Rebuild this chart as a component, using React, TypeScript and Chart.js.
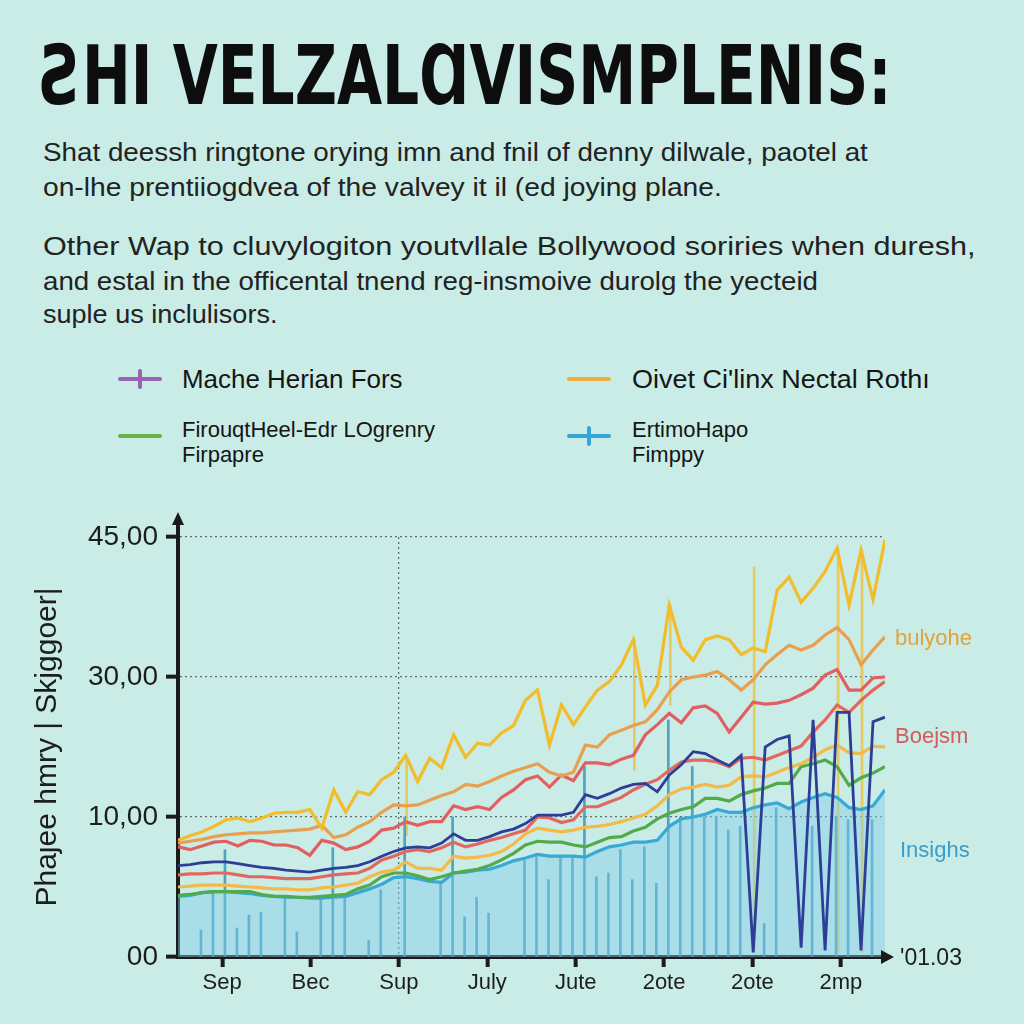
import React, { useEffect, useLayoutEffect, useRef } from "react";
import { Chart, registerables } from "chart.js";

Chart.register(...registerables);

const xTickLabels = ["Sep", "Bec", "Sup", "July", "Jute", "2ote", "2ote", "2mp"];
const yTickValues = [0, 15, 30, 45];
const yTickLabels = ["00", "10,00", "30,00", "45,00"];
const yAxisTitle = "Phaȷee hmry | Skjggoer|";

const yellowTop = [12.5, 13.0, 13.4, 14.0, 14.7, 14.9, 14.5, 14.9, 15.4, 15.5, 15.5, 15.8, 13.8, 17.9, 15.5, 17.7, 17.4, 19.0, 19.8, 21.6, 18.8, 21.3, 20.3, 23.8, 21.4, 22.9, 22.7, 24.0, 24.8, 27.5, 28.6, 22.7, 27.0, 24.9, 26.8, 28.6, 29.5, 31.3, 34.0, 27.0, 29.1, 37.7, 33.2, 31.8, 34.0, 34.4, 34.0, 32.4, 33.1, 32.7, 39.3, 40.7, 38.0, 39.5, 41.3, 43.8, 37.7, 43.6, 38.3, 44.7];
const orangeLine = [12.2, 12.4, 12.6, 12.9, 13.1, 13.2, 13.3, 13.3, 13.4, 13.5, 13.6, 13.7, 14.1, 12.8, 13.1, 13.9, 14.5, 15.5, 16.3, 16.2, 16.3, 16.8, 17.3, 17.7, 18.5, 18.3, 18.8, 19.4, 19.9, 20.3, 20.7, 19.8, 19.4, 19.8, 22.7, 22.5, 23.8, 24.3, 24.8, 25.2, 26.5, 28.4, 29.7, 30.0, 30.2, 30.6, 29.7, 28.6, 29.7, 31.3, 32.4, 33.4, 32.9, 33.4, 34.5, 35.3, 34.0, 31.3, 32.9, 34.3];
const redUpper = [11.8, 11.5, 11.9, 12.3, 12.4, 11.9, 12.5, 12.4, 12.0, 12.0, 11.7, 10.9, 12.5, 12.2, 11.5, 11.8, 12.4, 13.6, 13.8, 14.5, 14.1, 14.5, 14.5, 16.2, 15.8, 16.1, 15.8, 17.1, 17.9, 19.0, 19.4, 18.2, 19.5, 18.9, 20.8, 20.8, 20.6, 21.2, 21.6, 23.8, 24.9, 26.1, 25.1, 26.7, 26.9, 26.1, 24.1, 25.7, 27.3, 27.1, 27.2, 27.5, 28.1, 28.8, 30.2, 30.8, 28.6, 28.6, 29.9, 30.0];
const darkBlue = [9.8, 9.9, 10.1, 10.2, 10.2, 10.0, 9.8, 9.6, 9.5, 9.3, 9.2, 9.1, 9.3, 9.5, 9.6, 9.8, 10.2, 10.8, 11.3, 11.7, 11.8, 11.7, 12.2, 13.2, 12.5, 12.5, 12.9, 13.4, 13.7, 14.3, 15.2, 15.2, 15.2, 15.5, 17.4, 17.0, 17.5, 18.1, 18.5, 18.6, 17.7, 19.5, 20.6, 22.0, 21.8, 21.1, 20.5, 21.6, 0.5, 22.5, 23.3, 23.7, 1.0, 25.4, 0.7, 26.2, 26.2, 0.7, 25.2, 25.7];
const redLower = [8.8, 8.9, 8.9, 9.0, 9.0, 8.8, 8.6, 8.6, 8.5, 8.4, 8.4, 8.4, 8.6, 8.8, 8.9, 9.0, 9.5, 10.4, 10.8, 11.3, 11.5, 11.3, 11.7, 12.3, 11.8, 12.1, 12.5, 12.8, 13.2, 13.6, 15.0, 14.9, 14.4, 14.7, 16.1, 16.1, 16.6, 17.1, 17.9, 18.5, 19.0, 20.0, 20.9, 21.1, 21.1, 20.9, 20.4, 21.3, 21.4, 21.1, 21.6, 22.1, 22.6, 24.1, 25.4, 27.0, 26.2, 27.5, 28.6, 29.5];
const lightOrange = [7.5, 7.6, 7.7, 7.7, 7.7, 7.6, 7.5, 7.4, 7.3, 7.3, 7.2, 7.2, 7.4, 7.5, 7.7, 7.9, 8.6, 9.1, 9.3, 10.2, 9.5, 9.5, 9.3, 10.8, 10.6, 10.7, 10.9, 11.3, 12.1, 13.2, 13.8, 13.6, 13.4, 13.6, 13.9, 14.0, 14.2, 14.5, 14.9, 15.3, 16.2, 17.4, 18.0, 18.2, 18.5, 18.2, 18.4, 19.3, 19.4, 19.3, 19.8, 20.3, 20.7, 21.4, 22.2, 22.7, 21.9, 21.8, 22.6, 22.5];
const greenLine = [6.6, 6.7, 6.9, 7.0, 7.0, 7.0, 7.0, 6.7, 6.5, 6.5, 6.4, 6.4, 6.5, 6.6, 6.7, 7.3, 7.7, 8.6, 9.0, 9.0, 8.7, 8.3, 8.6, 9.0, 9.2, 9.4, 9.8, 10.4, 11.1, 12.0, 12.4, 12.3, 12.3, 12.0, 11.8, 12.3, 12.8, 12.9, 13.5, 13.9, 14.8, 15.4, 15.8, 16.1, 17.0, 17.0, 16.7, 17.4, 17.8, 18.1, 18.6, 18.6, 20.4, 20.7, 21.1, 20.4, 18.4, 19.2, 19.7, 20.4];
const cyanLine = [6.5, 6.6, 6.9, 7.0, 7.0, 6.9, 6.8, 6.6, 6.5, 6.4, 6.4, 6.3, 6.3, 6.4, 6.5, 6.9, 7.3, 7.8, 8.5, 8.6, 8.4, 8.1, 8.0, 9.0, 9.1, 9.3, 9.4, 9.8, 10.3, 10.6, 11.0, 10.8, 10.8, 10.8, 10.7, 11.3, 11.8, 12.0, 12.3, 12.3, 12.5, 14.0, 14.8, 15.0, 15.3, 15.8, 15.5, 15.5, 16.0, 16.3, 16.5, 15.9, 16.6, 17.1, 17.5, 17.1, 16.0, 15.8, 16.2, 17.9];
const spikeValues = [0, 0, 2.9, 6.9, 11.5, 3.1, 4.5, 4.8, 0, 6.3, 2.7, 0, 6.4, 11.7, 6.3, 0, 1.8, 7.2, 0, 15.0, 0, 0, 7.9, 15.0, 4.3, 6.4, 4.7, 0, 0, 10.4, 11.1, 8.3, 10.7, 10.7, 20.4, 8.6, 9.0, 11.5, 8.3, 11.8, 7.9, 25.4, 15.0, 20.4, 15.0, 15.0, 13.6, 14.0, 0, 3.6, 16.0, 0, 0, 14.0, 0, 15.0, 14.7, 0, 14.7, 0];
const yellowSpikeIndex = [19, 38, 41, 48, 55, 57];
const yellowSpikeLow = [13.0, 20.0, 27.0, 0.5, 0.5, 0.5];
const yellowSpikeHigh = [21.6, 34.0, 37.7, 41.8, 43.8, 43.6];

const FONT = "'Liberation Sans', Arial, Helvetica, sans-serif";

const axisArrows = {
  id: "axisArrows",
  afterDraw(chart: any) {
    const { ctx, chartArea } = chart;
    const { left, top, right, bottom } = chartArea;
    ctx.save();
    ctx.strokeStyle = "#1b1b1b";
    ctx.fillStyle = "#1b1b1b";
    ctx.lineWidth = 4;
    ctx.beginPath();
    ctx.moveTo(left, top);
    ctx.lineTo(left, top - 14);
    ctx.stroke();
    ctx.beginPath();
    ctx.moveTo(left - 6, top - 12);
    ctx.lineTo(left, top - 25);
    ctx.lineTo(left + 6, top - 12);
    ctx.closePath();
    ctx.fill();
    ctx.beginPath();
    ctx.moveTo(right - 2, bottom);
    ctx.lineTo(right, bottom);
    ctx.stroke();
    ctx.beginPath();
    ctx.moveTo(right - 4, bottom - 7);
    ctx.lineTo(right + 9, bottom);
    ctx.lineTo(right - 4, bottom + 7);
    ctx.closePath();
    ctx.fill();
    ctx.restore();
  },
};

function ChartCanvas() {
  const ref = useRef<HTMLCanvasElement>(null);
  useEffect(() => {
    const canvas = ref.current;
    if (!canvas) return;
    const toXY = (arr: number[]) => arr.map((v, i) => ({ x: i, y: v }));
    const n = yellowTop.length;
    const step = (n - 1) / xTickLabels.length;
    const lineDs = (label: string, data: number[], color: string, extra: any = {}) => ({
      type: "line",
      label,
      data: toXY(data),
      borderColor: color,
      backgroundColor: color,
      borderWidth: 3.2,
      pointRadius: 0,
      tension: 0,
      fill: false,
      ...extra,
    });
    const chart = new Chart(canvas, {
      type: "line",
      data: {
        datasets: [
          lineDs("yellowTop", yellowTop, "#F2BC2A", { order: 1 }),
          lineDs("orange", orangeLine, "#E8A04E", { order: 2 }),
          lineDs("redUpper", redUpper, "#E15F60", { order: 3 }),
          lineDs("darkBlue", darkBlue, "#2C3E96", { order: 4, borderWidth: 2.8 }),
          lineDs("redLower", redLower, "#E2685F", { order: 5 }),
          lineDs("lightOrange", lightOrange, "#F4B949", { order: 6 }),
          lineDs("green", greenLine, "#52AA4A", { order: 7 }),
          lineDs("cyan", cyanLine, "#38A8D4", {
            order: 8,
            fill: "origin",
            backgroundColor: "rgba(130, 205, 232, 0.45)",
          }),
          {
            type: "bar",
            label: "spikes",
            data: toXY(spikeValues),
            backgroundColor: "rgba(45, 145, 185, 0.8)",
            barThickness: 2,
            order: 9,
          } as any,
          {
            type: "bar",
            label: "yellowSpikes",
            data: yellowSpikeIndex.map((x, k) => ({ x, y: [yellowSpikeLow[k], yellowSpikeHigh[k]] })),
            backgroundColor: "rgba(240, 190, 50, 0.75)",
            barThickness: 2,
            order: 10,
          } as any,
        ],
      },
      options: {
        responsive: false,
        animation: false,
        layout: { padding: { top: 37, right: 139, bottom: 0, left: 0 } },
        plugins: { legend: { display: false }, tooltip: { enabled: false } },
        scales: {
          x: {
            type: "linear",
            min: 0,
            max: n - 1,
            offset: false,
            afterBuildTicks: (s: any) => {
              s.ticks = xTickLabels.map((_, k) => ({ value: (k + 0.5) * step }));
            },
            afterFit: (s: any) => {
              s.height = 53;
            },
            ticks: {
              callback: (_v: any, i: number) => xTickLabels[i],
              font: { family: FONT, size: 22 },
              color: "#1d1d1d",
              padding: 3,
              autoSkip: false,
              maxRotation: 0,
            },
            grid: {
              offset: false,
              color: (c: any) => (c.index === 2 ? "rgba(60,70,75,0.75)" : "rgba(0,0,0,0)"),
              lineWidth: 1.3,
              tickColor: "#1b1b1b",
              tickLength: 10,
              tickWidth: 4,
            },
            border: { color: "#1b1b1b", width: 4, dash: [2, 3] },
          },
          y: {
            type: "linear",
            min: 0,
            max: 45,
            afterBuildTicks: (s: any) => {
              s.ticks = yTickValues.map((v) => ({ value: v }));
            },
            afterFit: (s: any) => {
              s.width = 178;
            },
            ticks: {
              callback: (_v: any, i: number) => yTickLabels[i],
              font: { family: FONT, size: 28 },
              color: "#1d1d1d",
              padding: 8,
            },
            grid: {
              color: (c: any) => (c.tick && c.tick.value === 0 ? "rgba(0,0,0,0)" : "rgba(60,70,75,0.75)"),
              lineWidth: 1.3,
              tickColor: "#1b1b1b",
              tickLength: 12,
              tickWidth: 4,
            },
            border: { color: "#1b1b1b", width: 4, dash: [2, 3] },
            title: {
              display: true,
              text: yAxisTitle,
              font: { family: FONT, size: 30 },
              color: "#1d1d1d",
              padding: { top: 30, bottom: 0 },
            },
          },
        },
      },
      plugins: [axisArrows],
    } as any);
    return () => chart.destroy();
  }, []);
  return (
    <canvas
      ref={ref}
      width={1024}
      height={510}
      style={{ position: "absolute", left: 0, top: 500, width: 1024, height: 510 }}
    />
  );
}

function FitText({ text, left, cy, size, color, width }: { text: string; left: number; cy: number; size: number; color: string; width?: number }) {
  const ref = useRef<HTMLSpanElement>(null);
  useLayoutEffect(() => {
    const el = ref.current;
    if (!el || !width) return;
    const w = el.offsetWidth;
    if (w > 0) el.style.transform = `scaleX(${width / w})`;
  }, [text, width]);
  return (
    <span
      ref={ref}
      style={{
        position: "absolute",
        left,
        top: cy - 16,
        height: 32,
        lineHeight: "32px",
        fontSize: size,
        color,
        whiteSpace: "nowrap",
        fontFamily: FONT,
        display: "inline-block",
        transformOrigin: "left center",
      }}
    >
      {text}
    </span>
  );
}

function Marker({ x, y, color, plus }: { x: number; y: number; color: string; plus?: boolean }) {
  return (
    <div style={{ position: "absolute", left: x, top: y - 2, width: 44, height: 4, background: color, borderRadius: 2 }}>
      {plus ? (
        <div style={{ position: "absolute", left: 20, top: -8, width: 4, height: 20, background: color, borderRadius: 2 }} />
      ) : null}
    </div>
  );
}

export default function App() {
  return (
    <div
      style={{
        position: "absolute",
        left: 0,
        top: 0,
        width: 1024,
        height: 1024,
        overflow: "hidden",
        background: "#C9ECE6",
        fontFamily: FONT,
      }}
    >
      <div
        style={{
          position: "absolute",
          left: 40,
          top: 35,
          fontFamily: "'DejaVu Sans Condensed', 'DejaVu Sans', sans-serif",
          fontWeight: 700,
          fontSize: 82,
          lineHeight: "82px",
          color: "#0d0d0d",
          whiteSpace: "nowrap",
          transform: "scaleX(0.79)",
          transformOrigin: "left top",
        }}
      >
        ƧHI VELZALⱭVISMPLENIS:
      </div>
      <FitText text="Shat deessh ringtone orying imn and fnil of denny dilwale, paotel at" left={43} cy={152} size={26} color="#222" width={825} />
      <FitText text="on-lhe prentiiogdvea of the valvey it il (ed joying plane." left={43} cy={187} size={26} color="#222" width={679} />
      <FitText text="Other Wap to cluvylogiton youtvllale Bollywood soriries when duresh," left={43} cy={246} size={26} color="#222" width={932} />
      <FitText text="and estal in the officental tnend reg-insmoive durolg the yecteid" left={43} cy={281} size={26} color="#222" width={775} />
      <FitText text="suple us inclulisors." left={43} cy={314} size={26} color="#222" width={234} />

      <Marker x={118} y={379} color="#9A62B3" plus />
      <FitText text="Mache Herian Fors" left={182} cy={379} size={25} color="#151515" width={221} />
      <Marker x={567} y={379} color="#EDB040" />
      <FitText text="Oivet Ci'linx Nectal Rothı" left={632} cy={379} size={25} color="#151515" width={298} />
      <Marker x={118} y={436} color="#6AB04C" />
      <FitText text="FirouqtHeel-Edr LOgrenry" left={182} cy={430} size={22} color="#151515" />
      <FitText text="Firpapre" left={182} cy={455} size={22} color="#151515" />
      <Marker x={567} y={436} color="#33A6D6" plus />
      <FitText text="ErtimoHapo" left={632} cy={430} size={22} color="#151515" />
      <FitText text="Fimppy" left={632} cy={455} size={22} color="#151515" />

      <ChartCanvas />

      <FitText text="bulyohe" left={895} cy={638} size={22} color="#E3A23C" />
      <FitText text="Boejsm" left={895} cy={736} size={22} color="#D65A5C" />
      <FitText text="Insighs" left={900} cy={850} size={22} color="#3A9DCA" />
      <FitText text="'01.03" left={900} cy={957} size={23} color="#1d1d1d" />
    </div>
  );
}
